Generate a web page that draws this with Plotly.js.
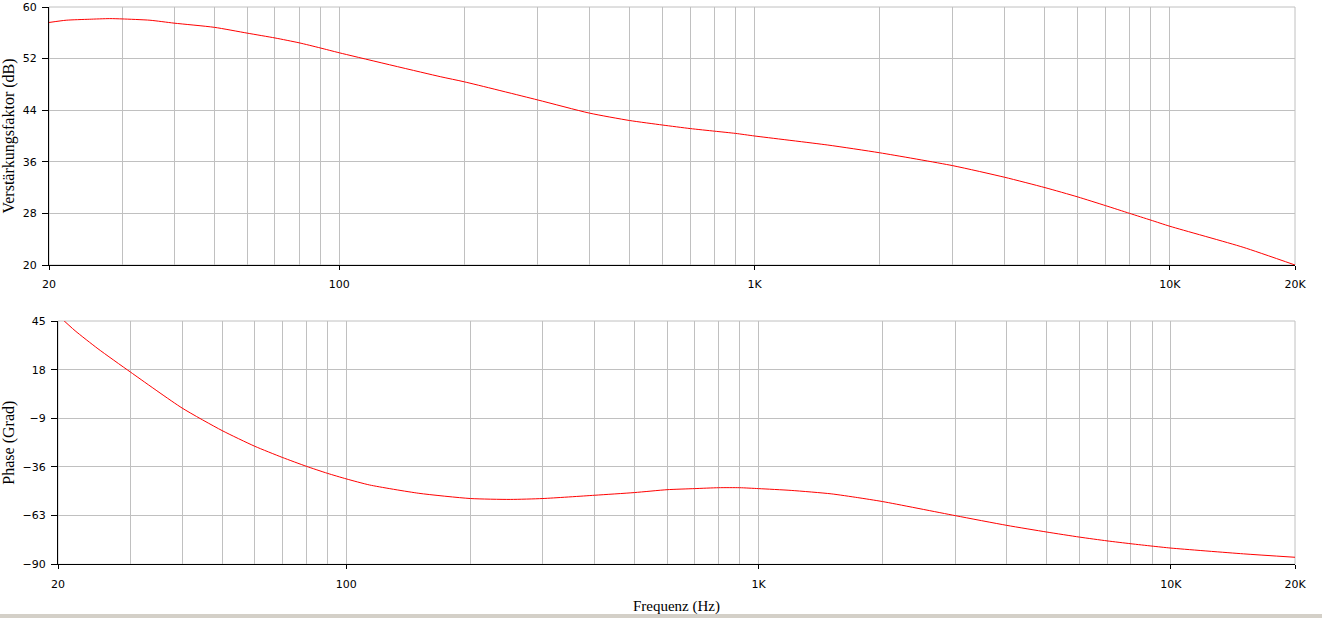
<!DOCTYPE html>
<html>
<head>
<meta charset="utf-8">
<script src="https://cdn.plot.ly/plotly-3.0.1.min.js"></script>
<style>html,body{margin:0;padding:0;background:#fff;}#chart{width:1322px;height:618px;}</style>
</head>
<body>
<div id="chart"></div>
<script>
// Frequency axis
const xTickVals = [20, 100, 1000, 10000, 20000];
const xTickText = ['20', '100', '1K', '10K', '20K'];
const xMinorVals = [30, 40, 50, 60, 70, 80, 90, 200, 300, 400, 500, 600, 700, 800, 900,
                    2000, 3000, 4000, 5000, 6000, 7000, 8000, 9000];

// Gain (Verstärkungsfaktor, dB)
const gainFreq = [20, 22, 25, 28, 30, 35, 40, 50, 60, 70, 80, 90, 100, 175, 200, 300, 400, 500,
                  600, 700, 800, 900, 1000, 1500, 2000, 3000, 4000, 5000, 6000, 7000, 8000, 9000,
                  10000, 15000, 20000];
const gainDb = [57.6, 57.95, 58.1, 58.2, 58.15, 57.95, 57.5, 56.85, 55.95, 55.2, 54.45, 53.65, 52.9,
                49.2, 48.4, 45.6, 43.55, 42.4, 41.7, 41.15, 40.75, 40.4, 40.0, 38.6, 37.4, 35.4,
                33.6, 32.0, 30.55, 29.2, 28.0, 26.95, 26.0, 22.75, 20.0];

// Phase (Grad)
const phaseFreq = [20, 22, 25, 30, 40, 50, 60, 70, 80, 90, 100, 114, 150, 200, 250, 300, 400, 500,
                   600, 700, 800, 900, 1000, 1200, 1500, 1740, 2000, 3000, 4000, 5000, 6000, 7000,
                   8000, 9000, 10000, 15000, 20000];
const phaseDeg = [48.2, 39.6, 29.6, 16.6, -3.3, -15.8, -24.5, -30.7, -35.6, -39.5, -42.6, -46.0,
                  -50.6, -53.5, -54.0, -53.5, -51.7, -50.2, -48.6, -48.0, -47.5, -47.5, -48.0,
                  -49.0, -50.9, -53.0, -55.2, -63.0, -68.4, -72.1, -74.9, -77.0, -78.6, -79.9,
                  -81.0, -84.2, -86.1];

const gainTicks = [20, 28, 36, 44, 52, 60];
const phaseTicks = [-90, -63, -36, -9, 18, 45];

const W = 1322, H = 618;
const gridCol = '#c0c0c0';
const tickFont = {family: 'DejaVu Sans, Verdana, sans-serif', size: 11, color: '#000'};
const xTitleFont = {family: 'Liberation Serif, Times New Roman, serif', size: 15, color: '#000'};
const yTitleFont = {family: 'Liberation Serif, Times New Roman, serif', size: 16, color: '#000'};

function xAxis(domain, anchor, withTitle) {
  const ax = {
    type: 'log', domain: domain, anchor: anchor,
    range: [Math.log10(20), Math.log10(20000)],
    tickmode: 'array', tickvals: xTickVals, ticktext: xTickText,
    ticks: 'outside', ticklen: 4, tickcolor: '#000', tickwidth: 1,
    ticklabelstandoff: 5, ticklabeloverflow: 'allow',
    showline: true, linecolor: '#000', linewidth: 1, mirror: false,
    showgrid: true, gridcolor: gridCol, gridwidth: 1,
    minor: {tickmode: 'array', tickvals: xMinorVals, showgrid: true, gridcolor: gridCol, gridwidth: 1, ticks: ''},
    zeroline: false, tickfont: tickFont, fixedrange: true
  };
  if (withTitle) ax.title = {text: 'Frequenz (Hz)', font: xTitleFont, standoff: 10};
  return ax;
}
function yAxis(domain, anchor, range, ticks, title) {
  return {
    domain: domain, anchor: anchor, range: range,
    tickmode: 'array', tickvals: ticks,
    ticks: 'outside', ticklen: 6, tickcolor: '#000', tickwidth: 1,
    ticklabelstandoff: 3, ticklabeloverflow: 'allow',
    showline: true, linecolor: '#000', linewidth: 1, mirror: false,
    showgrid: true, gridcolor: gridCol, gridwidth: 1,
    zeroline: false, tickfont: tickFont, fixedrange: true,
    title: {text: title, font: yTitleFont, standoff: 4}
  };
}

const traces = [
  {x: gainFreq, y: gainDb, xaxis: 'x', yaxis: 'y', type: 'scatter', mode: 'lines',
   line: {color: '#ff0000', width: 1, shape: 'spline', smoothing: 0.6}, hoverinfo: 'skip'},
  {x: phaseFreq, y: phaseDeg, xaxis: 'x2', yaxis: 'y2', type: 'scatter', mode: 'lines',
   line: {color: '#ff0000', width: 1, shape: 'spline', smoothing: 0.6}, hoverinfo: 'skip'}
];

function frame(xr, yr) {
  return {type: 'rect', xref: xr + ' domain', yref: yr + ' domain', x0: 0, x1: 1, y0: 0, y1: 1,
          line: {color: gridCol, width: 1}, fillcolor: 'rgba(0,0,0,0)', layer: 'below'};
}

const layout = {
  width: W, height: H,
  margin: {l: 0, r: 0, t: 0, b: 0},
  paper_bgcolor: '#fff', plot_bgcolor: '#fff',
  showlegend: false,
  xaxis: xAxis([49 / W, 1295 / W], 'y', false),
  yaxis: yAxis([1 - 265 / H, 1 - 7 / H], 'x', [20, 60], gainTicks, 'Verstärkungsfaktor (dB)'),
  xaxis2: xAxis([58 / W, 1295 / W], 'y2', true),
  yaxis2: yAxis([1 - 564.3 / H, 1 - 321 / H], 'x2', [-90, 45], phaseTicks, 'Phase (Grad)'),
  shapes: [
    frame('x', 'y'),
    frame('x2', 'y2'),
    {type: 'rect', xref: 'paper', yref: 'paper', x0: 0, x1: 1, y0: 0, y1: 4 / H,
     fillcolor: '#d4d0c8', line: {width: 0}, layer: 'below'}
  ]
};

Plotly.newPlot('chart', traces, layout, {displayModeBar: false, staticPlot: true});
</script>
</body>
</html>
